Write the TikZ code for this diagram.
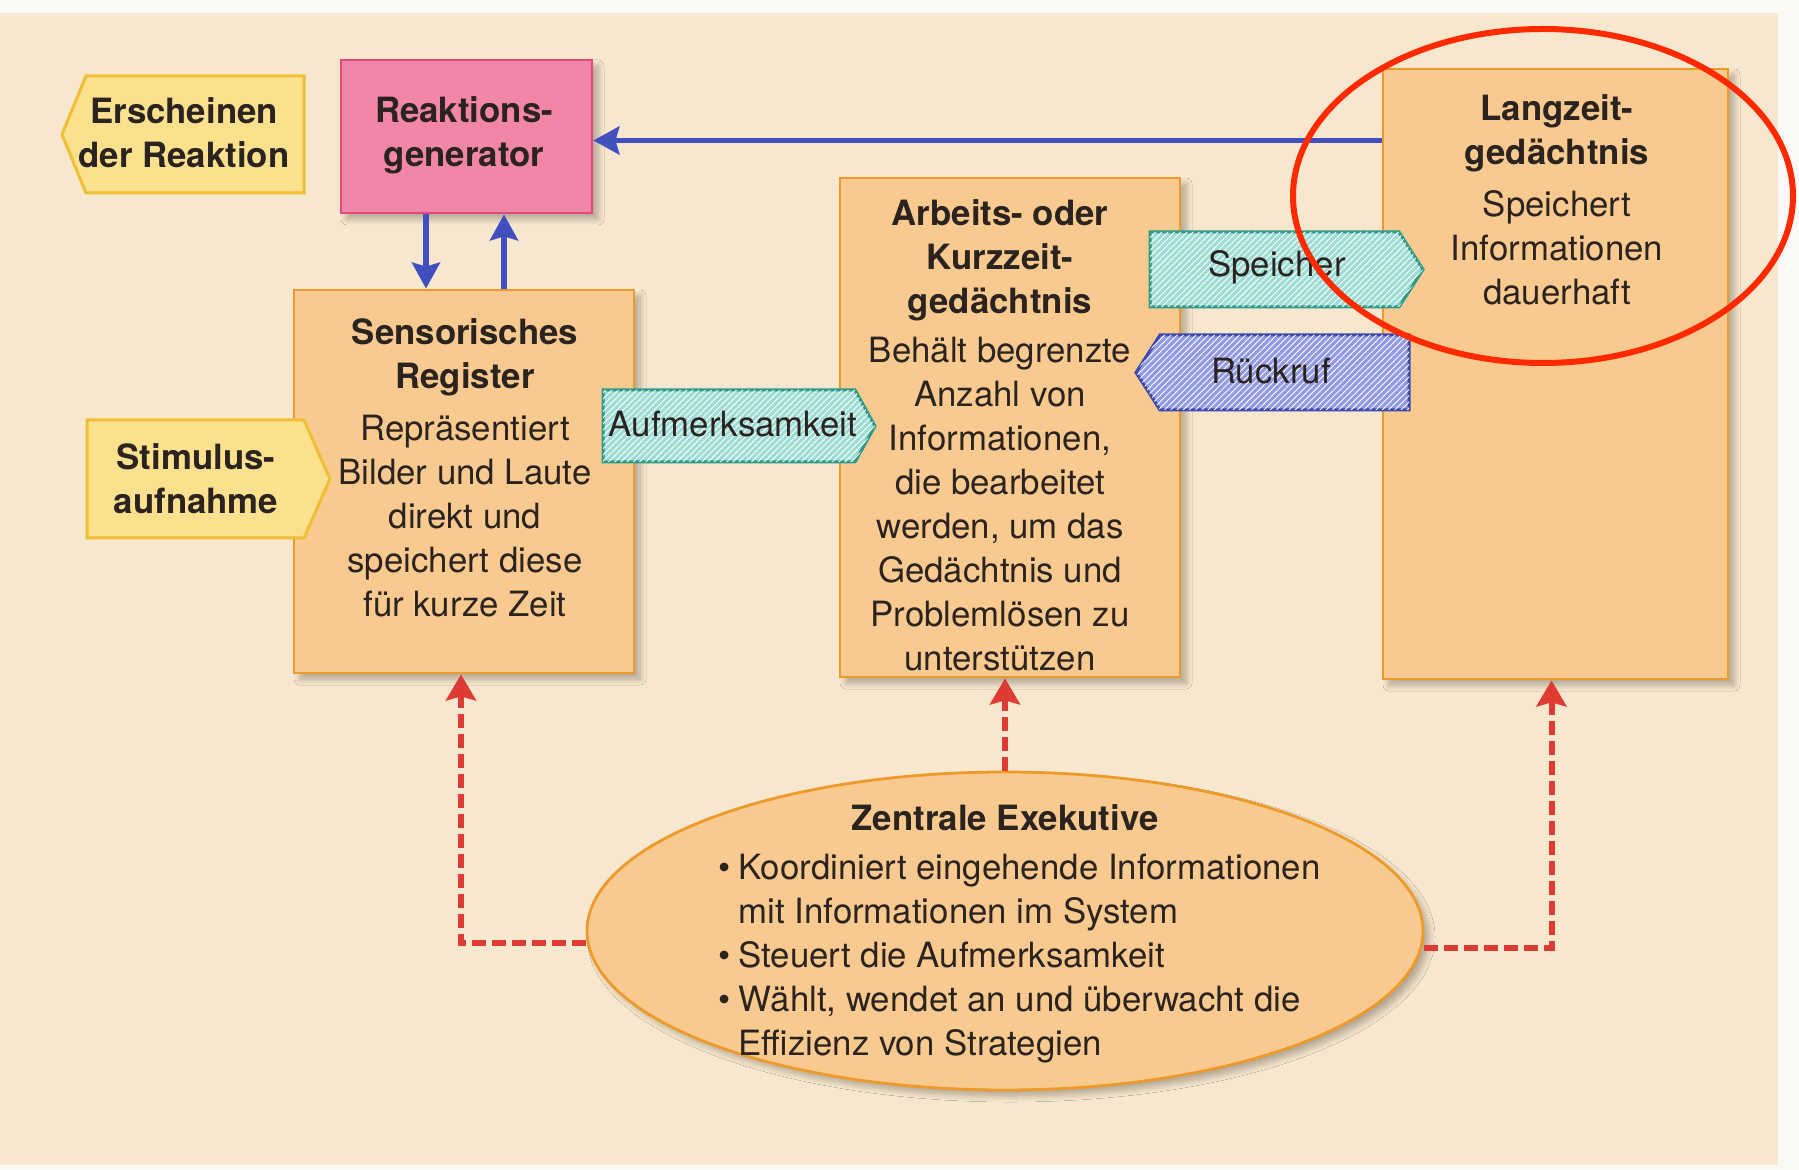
\documentclass[tikz,border=0pt]{standalone}
\usepackage{fontspec}
\setmainfont{TeX Gyre Heros}
\usetikzlibrary{arrows.meta,shapes.geometric,shadows.blur,patterns.meta}

\definecolor{pagewhite}{HTML}{FBF9F5}
\definecolor{paper}{HTML}{F7E7CE}
\definecolor{ink}{HTML}{2A231F}
\definecolor{boxfill}{HTML}{F9CA90}
\definecolor{boxedge}{HTML}{EE9A2A}
\definecolor{pinkfill}{HTML}{F186A8}
\definecolor{pinkedge}{HTML}{E04A7C}
\definecolor{yelfill}{HTML}{FBE08E}
\definecolor{yeledge}{HTML}{EFBE32}
\definecolor{tealfill}{HTML}{9EDDD5}
\definecolor{tealedge}{HTML}{2E9A88}
\definecolor{violfill}{HTML}{929AE6}
\definecolor{violedge}{HTML}{3E48B0}
\definecolor{arrowblue}{HTML}{4150BE}
\definecolor{dashred}{HTML}{DE3B35}
\definecolor{ringred}{HTML}{FF2A00}

\begin{document}
\begin{tikzpicture}[x=0.5pt,y=-0.5pt,
  every node/.style={inner sep=0pt},
  txt/.style={font=\fontsize{17.4}{22}\selectfont, text=ink, align=center},
  shade/.style={blur shadow={shadow xshift=3pt, shadow yshift=-3pt, shadow blur radius=3pt, shadow blur steps=8, shadow opacity=28}},
  membox/.style={rectangle, draw=boxedge, fill=boxfill, line width=1.4pt, shade},
  genbox/.style={rectangle, draw=pinkedge, fill=pinkfill, line width=1.4pt, shade},
  execoval/.style={ellipse, draw=boxedge, fill=boxfill, line width=1.4pt, shade},
  tagyellow/.style={draw=yeledge, fill=yelfill, line width=1.5pt, line join=miter},
  hatched/.style={postaction={pattern={Lines[angle=45,distance=2.2pt,line width=0.45pt]}, pattern color=white, fill opacity=0.22}},
  tagteal/.style={draw=tealedge, fill=tealfill, line width=1.5pt, hatched},
  tagviolet/.style={draw=violedge, fill=violfill, line width=1.5pt, hatched},
  bluearrow/.style={draw=arrowblue, line width=2.6pt, -{Stealth[width=14pt,length=13pt,inset=2pt]}},
  redarrow/.style={draw=dashred, line width=3pt, dash pattern=on 7pt off 3pt, -{Stealth[width=15pt,length=13pt,inset=2pt]}},
  ring/.style={ellipse, draw=ringred, line width=3pt}
]
\useasboundingbox (0,0) rectangle (1799,1170);
\fill[pagewhite] (0,0) rectangle (1799,1170);
\fill[paper] (0,13) rectangle (1778,1165);

% memory stores
\node[genbox, minimum width=125.5pt, minimum height=76.5pt] (react) at (466.5,136.5) {};
\node[membox, minimum width=170pt, minimum height=191.5pt] (sens) at (464,481.5) {};
\node[membox, minimum width=170pt, minimum height=249.5pt] (arb) at (1010,427.5) {};
\node[membox, minimum width=172.5pt, minimum height=305pt] (lang) at (1555.5,374) {};
\node[execoval, minimum width=418pt, minimum height=159pt] (zent) at (1005,931) {};

% information flow between stores
\draw[bluearrow] ([yshift=-2pt]lang.west |- react.east) -- ([yshift=-2pt]react.east);
\draw[bluearrow] ([xshift=-20.25pt]react.south) -- ([xshift=-19pt]sens.north);
\draw[bluearrow] ([xshift=20pt]sens.north) -- ([xshift=18.75pt]react.south);

% control by the central executive
\draw[redarrow] ([yshift=-6pt]zent.west) -| ([xshift=-1.5pt]sens.south);
\draw[redarrow] (zent.north) -- (zent.north |- arb.south);
\draw[redarrow] ([yshift=-8.5pt]zent.east) -| ([xshift=-2pt]lang.south);

% input and output tags
\draw[tagyellow] (62,134.5) -- (86,76) -- (304,76) -- (304,193) -- (86,193) -- cycle;
\draw[tagyellow] (87,420) -- (304,420) -- (330,479) -- (304,538) -- (87,538) -- cycle;
\draw[tagteal] (603,390) -- (855,390) -- (875,426) -- (855,462) -- (603,462) -- cycle;
\draw[tagteal] (1150,232) -- (1399,232) -- (1423,269.5) -- (1399,307) -- (1150,307) -- cycle;
\draw[tagviolet] (1136,372.5) -- (1160,335) -- (1409,335) -- (1409,410) -- (1160,410) -- cycle;

% labels
\node[txt] (ersch) at (184,133) {\textbf{Erscheinen}\\\textbf{der Reaktion}};
\node[txt] (stim) at (196,478.5) {\textbf{Stimulus-}\\\textbf{aufnahme}};
\node[txt] (reacttxt) at (464,135) {\textbf{Reaktions-}\\\textbf{generator}};
\node[txt] (aufm) at (733,424.5) {Aufmerksamkeit};
\node[txt] (speich) at (1277,267) {Speicher};
\node[txt] (rueck) at (1271,371) {Rückruf};

\node[txt] (senstxt) at (465,468) {\textbf{Sensorisches}\\\textbf{Register}\\[3.8pt]Repräsentiert\\Bilder und Laute\\direkt und\\speichert diese\\für kurze Zeit};
\node[txt] (arbtxt) at (1000,435) {\textbf{Arbeits- oder}\\\textbf{Kurzzeit-}\\\textbf{gedächtnis}\\[2.3pt]Behält begrenzte\\Anzahl von\\Informationen,\\die bearbeitet\\werden, um das\\Gedächtnis und\\Problemlösen zu\\unterstützen};
\node[txt] (langtxt) at (1557,200) {\textbf{Langzeit-}\\\textbf{gedächtnis}\\[4pt]Speichert\\Informationen\\dauerhaft};

\node[txt] (zenttitle) at (1005,818) {\textbf{Zentrale Exekutive}};
\node[txt, anchor=west] (zentlist) at (718,959) {%
  \begin{tabular}{@{}l@{\hspace{4pt}}l@{}}
  \textbullet & Koordiniert eingehende Informationen\\
              & mit Informationen im System\\
  \textbullet & Steuert die Aufmerksamkeit\\
  \textbullet & Wählt, wendet an und überwacht die\\
              & Effizienz von Strategien
  \end{tabular}};

% highlight ring
\node[ring, minimum width=250pt, minimum height=167pt] (mark) at (1543,196) {};
\end{tikzpicture}
\end{document}
